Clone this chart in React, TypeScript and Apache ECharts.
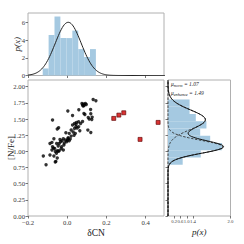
import React, { useEffect, useRef } from "react";
import * as echarts from "echarts";

// ---- Data ----
const blackDeltaCN = [
  0.132, 0.146, 0.075, 0.083, 0.092, 0.097, 0.081, 0.086, 0.078, 0.119,
  0.059, 0.003, 0.027, 0.085, 0.090, 0.120, -0.075, 0.107, 0.127, 0.125,
  0.112, 0.058, 0.047, 0.037, 0.078, 0.068, -0.051, -0.044, 0.027, 0.044,
  0.037, 0.058, 0.064, 0.041, 0.105, 0.120, -0.007, 0.010, 0.020, -0.068,
  -0.037, -0.027, -0.020, -0.010, 0.003, 0.010, -0.003, -0.088, -0.078, -0.054,
  -0.041, -0.034, -0.075, -0.064, -0.046, -0.029, -0.017, -0.078, -0.061, -0.051,
  -0.041, -0.031, -0.020, -0.122, -0.088, -0.068, -0.051, -0.058, -0.061, -0.108,
  0.005, 0.015, 0.030, 0.035, 0.045, 0.050, -0.015, -0.045, 0.020, -0.070,
  0.000, -0.055,
];
const blackNFe = [
  1.803, 1.783, 1.741, 1.731, 1.741, 1.726, 1.700, 1.710, 1.716, 1.649,
  1.644, 1.623, 1.556, 1.587, 1.571, 1.582, 1.484, 1.525, 1.530, 1.494,
  1.499, 1.458, 1.448, 1.432, 1.463, 1.432, 1.345, 1.365, 1.407, 1.381,
  1.355, 1.381, 1.319, 1.278, 1.329, 1.293, 1.288, 1.278, 1.236, 1.195,
  1.185, 1.164, 1.195, 1.175, 1.195, 1.164, 1.149, 1.123, 1.139, 1.123,
  1.123, 1.149, 1.072, 1.046, 1.082, 1.072, 1.097, 1.020, 0.999, 1.010,
  1.010, 1.041, 1.020, 0.927, 0.943, 0.927, 0.896, 0.845, 0.835, 0.793,
  1.210, 1.190, 1.300, 1.250, 1.420, 1.360, 1.130, 1.000, 1.330, 1.050,
  1.170, 0.970,
];
const redDeltaCN = [0.237, 0.263, 0.288, 0.371, 0.463];
const redNFe = [1.51, 1.561, 1.597, 1.185, 1.448];

// top histogram (density of δCN)
const topBinEdges = [-0.125, -0.095, -0.065, -0.035, -0.004, 0.026, 0.056, 0.086, 0.116, 0.146];
const topBinHeights = [0.8, 4.6, 6.7, 4.25, 4.25, 5.1, 3.0, 2.1, 3.0];
// right histogram (density of [N/Fe])
const rightBinEdges = [0.793, 0.905, 1.017, 1.13, 1.242, 1.354, 1.466, 1.578, 1.691, 1.803];
const rightBinHeights = [0.47, 1.05, 1.73, 1.35, 1.03, 1.23, 0.89, 0.69, 0.69];

// fitted model parameters
const topMu = 0.005;
const topSigma = 0.066;
const muNorm = 1.07;
const sigmaNorm = 0.1;
const weightNorm = 0.44;
const muEnh = 1.49;
const sigmaEnh = 0.15;
const weightEnh = 0.45;

// ticks
const xTicks = [-0.2, 0.0, 0.2, 0.4];
const yTicks = [0, 0.25, 0.5, 0.75, 1.0, 1.25, 1.5, 1.75, 2.0];
const topYTicks = [0, 2, 4, 6];
const rightXTickPos = [0.2, 0.4, 0.6, 0.8, 2.0];
const rightXTickLabels = ["0.2", "0.6", "1.0", "1.4", "2.0"];

const FONT = "Liberation Serif";
const HIST = "#a5c9e1";
const FRAME = "#b0b0b0";
const TXT = "#3a3a3a";

function gauss(x: number, mu: number, s: number, w: number) {
  return (w / (s * Math.sqrt(2 * Math.PI))) * Math.exp(-0.5 * ((x - mu) / s) ** 2);
}

export default function App() {
  const ref = useRef<HTMLDivElement>(null);
  useEffect(() => {
    if (!ref.current) return;
    const chart = echarts.init(ref.current, undefined, { renderer: "svg" });

    const topCurve: number[][] = [];
    for (let i = 0; i <= 140; i++) {
      const x = -0.2 + i * 0.005;
      topCurve.push([x, gauss(x, topMu, topSigma, 1)]);
    }
    const normCurve: number[][] = [];
    const enhCurve: number[][] = [];
    const sumCurve: number[][] = [];
    for (let i = 0; i <= 210; i++) {
      const y = i * 0.01;
      const a = gauss(y, muNorm, sigmaNorm, weightNorm);
      const b = gauss(y, muEnh, sigmaEnh, weightEnh);
      normCurve.push([a, y]);
      enhCurve.push([b, y]);
      sumCurve.push([a + b, y]);
    }

    const labelBase = { fontFamily: FONT, fontSize: 6.7, color: TXT };
    const tickBase = { show: true, length: 2.5, lineStyle: { color: "#555", width: 0.8 } };
    const lineOff = { show: false, onZero: false };
    const fmt2 = (v: number) => v.toFixed(2);
    const fmtX = (v: number) => (v < 0 ? "\u2212" : "") + Math.abs(v).toFixed(1);
    const gridBase = { show: true, borderColor: FRAME, borderWidth: 1, containLabel: false, outerBoundsMode: "none" };
    const richText = (sub: string, val: string) => ({
      text: `{m|\u03bc}{s|${sub}}{m| = ${val}}`,
      fill: "#222",
      rich: {
        m: { fontFamily: FONT, fontSize: 5.5, fontStyle: "italic", fill: "#222" },
        s: { fontFamily: FONT, fontSize: 4.2, fontStyle: "italic", fill: "#222", padding: [2, 0, 0, 0] },
      },
    });

    const option: any = {
      animation: false,
      grid: [
        { ...gridBase, left: 28, top: 80, width: 136, height: 136 },
        { ...gridBase, left: 28, top: 13, width: 136, height: 62.5 },
        { ...gridBase, left: 168, top: 80, width: 62.5, height: 136 },
      ],
      xAxis: [
        {
          gridIndex: 0, type: "value", min: -0.2, max: 0.493,
          axisLine: lineOff, splitLine: { show: false },
          axisTick: { ...tickBase, customValues: xTicks },
          axisLabel: { ...labelBase, margin: 3, customValues: xTicks, formatter: fmtX },
          name: "\u03b4CN", nameLocation: "middle", nameGap: 12, nameMoveOverlap: false,
          nameTextStyle: { fontFamily: FONT, fontSize: 9.5, color: "#222" },
        },
        {
          gridIndex: 1, type: "value", min: -0.2, max: 0.493,
          axisLine: lineOff, splitLine: { show: false },
          axisTick: { ...tickBase, customValues: xTicks },
          axisLabel: { show: false, customValues: xTicks },
        },
        {
          gridIndex: 2, type: "value", min: 0, max: 2.0,
          axisLine: lineOff, splitLine: { show: false },
          axisTick: { ...tickBase, customValues: rightXTickPos },
          axisLabel: {
            ...labelBase, fontSize: 4.7, margin: 3, customValues: rightXTickPos,
            formatter: (v: number) => {
              const i = rightXTickPos.findIndex((p) => Math.abs(p - v) < 1e-6);
              return i >= 0 ? rightXTickLabels[i] : "";
            },
          },
          name: "p(x)", nameLocation: "middle", nameGap: 11, nameMoveOverlap: false,
          nameTextStyle: { fontFamily: FONT, fontStyle: "italic", fontSize: 9, color: "#222" },
        },
      ],
      yAxis: [
        {
          gridIndex: 0, type: "value", min: 0, max: 2.104,
          axisLine: lineOff, splitLine: { show: false },
          axisTick: { ...tickBase, customValues: yTicks },
          axisLabel: { ...labelBase, margin: 3, customValues: yTicks, formatter: fmt2 },
          name: "[N/Fe]", nameLocation: "middle", nameGap: 13, nameMoveOverlap: false,
          nameTextStyle: { fontFamily: FONT, fontSize: 9, color: "#222" },
        },
        {
          gridIndex: 1, type: "value", min: 0, max: 7.1,
          axisLine: lineOff, splitLine: { show: false },
          axisTick: { ...tickBase, customValues: topYTicks },
          axisLabel: { ...labelBase, margin: 3, customValues: topYTicks },
          name: "p(x)", nameLocation: "middle", nameGap: 7, nameMoveOverlap: false,
          nameTextStyle: { fontFamily: FONT, fontStyle: "italic", fontSize: 9, color: "#222" },
        },
        {
          gridIndex: 2, type: "value", min: 0, max: 2.104,
          axisLine: lineOff, splitLine: { show: false },
          axisTick: { ...tickBase, customValues: yTicks },
          axisLabel: { show: false, customValues: yTicks },
        },
      ],
      series: [
        {
          type: "scatter", xAxisIndex: 0, yAxisIndex: 0,
          symbol: "circle", symbolSize: 3.4,
          itemStyle: { color: "#000" },
          data: blackDeltaCN.map((x, i) => [x, blackNFe[i]]),
        },
        {
          type: "scatter", xAxisIndex: 0, yAxisIndex: 0,
          symbol: "rect", symbolSize: 4,
          itemStyle: { color: "#d10000", borderColor: "#5a0000", borderWidth: 0.8 },
          data: redDeltaCN.map((x, i) => [x, redNFe[i]]),
        },
        {
          type: "custom", xAxisIndex: 1, yAxisIndex: 1,
          encode: { x: [0, 1], y: 2 },
          data: topBinHeights.map((h, i) => [topBinEdges[i], topBinEdges[i + 1], h]),
          renderItem: (params: any, api: any) => {
            const p0 = api.coord([api.value(0), api.value(2)]);
            const p1 = api.coord([api.value(1), 0]);
            return {
              type: "rect",
              shape: { x: p0[0], y: p0[1], width: p1[0] - p0[0], height: p1[1] - p0[1] },
              style: { fill: HIST },
            };
          },
        },
        {
          type: "line", xAxisIndex: 1, yAxisIndex: 1, showSymbol: false,
          lineStyle: { color: "#222", width: 1 }, data: topCurve,
        },
        {
          type: "custom", xAxisIndex: 2, yAxisIndex: 2,
          encode: { x: 0, y: [1, 2] },
          data: rightBinHeights.map((h, i) => [h, rightBinEdges[i], rightBinEdges[i + 1]]),
          renderItem: (params: any, api: any) => {
            const p0 = api.coord([0, api.value(2)]);
            const p1 = api.coord([api.value(0), api.value(1)]);
            return {
              type: "rect",
              shape: { x: p0[0], y: p0[1], width: p1[0] - p0[0], height: p1[1] - p0[1] },
              style: { fill: HIST },
            };
          },
        },
        {
          type: "line", xAxisIndex: 2, yAxisIndex: 2, showSymbol: false,
          lineStyle: { color: "#333", width: 0.9, type: [2.5, 1.5] }, data: normCurve,
        },
        {
          type: "line", xAxisIndex: 2, yAxisIndex: 2, showSymbol: false,
          lineStyle: { color: "#333", width: 0.9, type: [2.5, 1.5] }, data: enhCurve,
        },
        {
          type: "line", xAxisIndex: 2, yAxisIndex: 2, showSymbol: false,
          lineStyle: { color: "#111", width: 1 }, data: sumCurve,
        },
      ],
      graphic: [
        { type: "text", left: 171, top: 81, z: 100, style: richText("norm", "1.07") },
        { type: "text", left: 171, top: 90, z: 100, style: richText("enhance", "1.49") },
      ],
    };
    chart.setOption(option);
    return () => chart.dispose();
  }, []);
  return (
    <div
      ref={ref}
      style={{ position: "fixed", left: 0, top: 0, width: 244, height: 244, background: "#fff" }}
    />
  );
}
